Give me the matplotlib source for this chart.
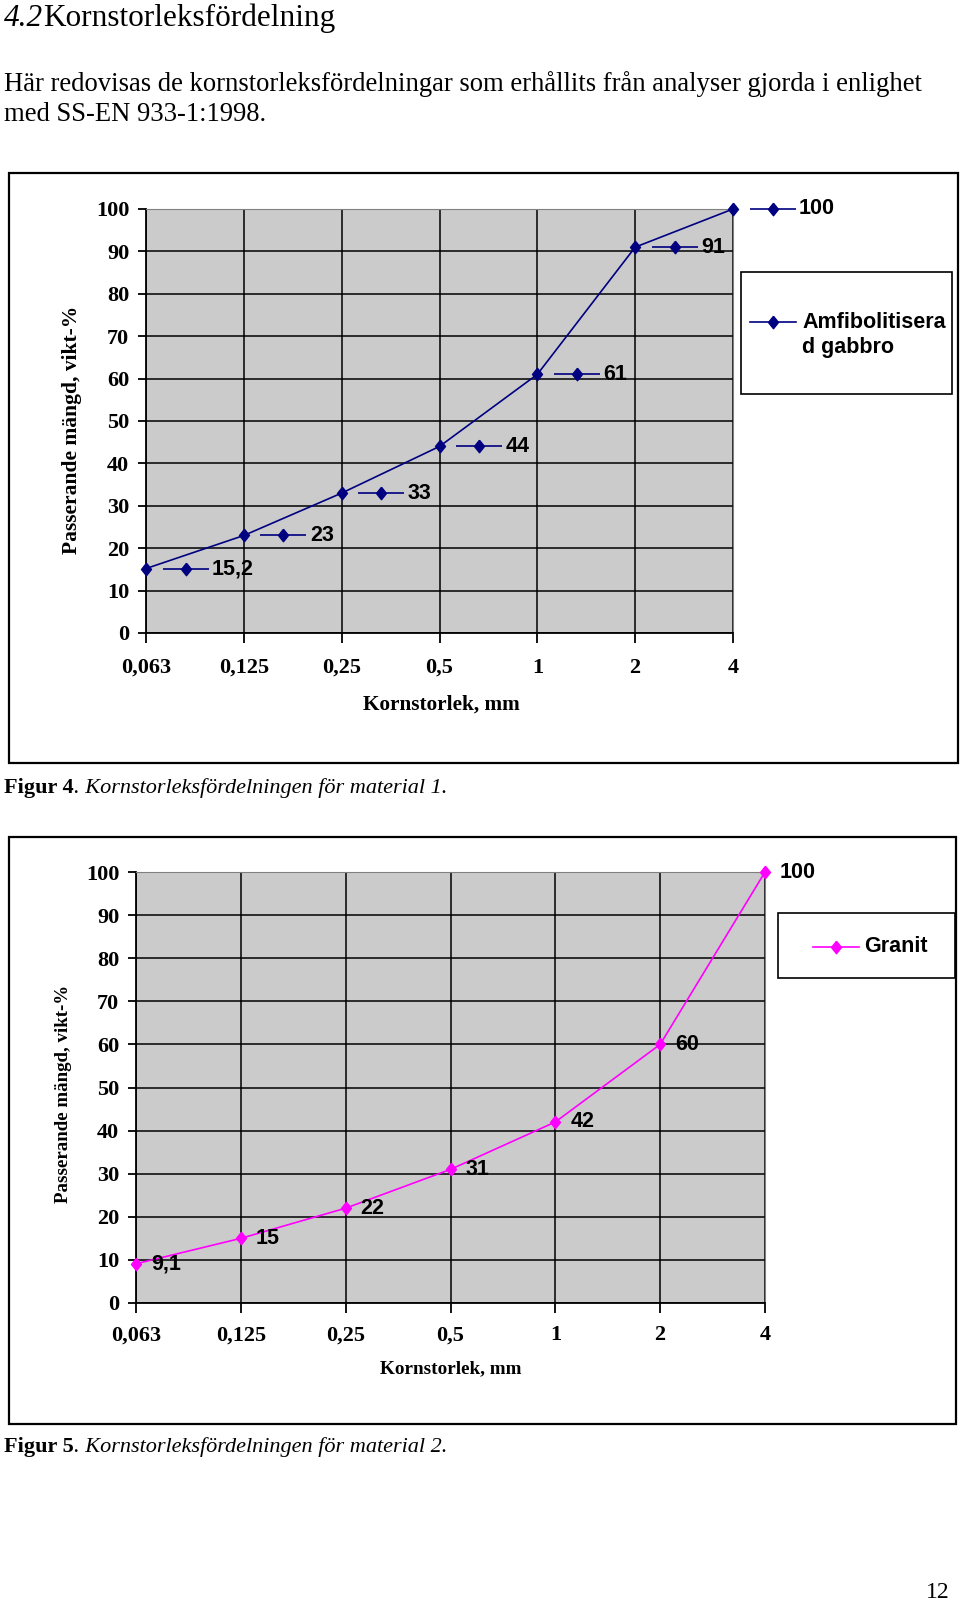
import matplotlib
matplotlib.use('Agg')
import matplotlib.pyplot as plt
from matplotlib.patches import Rectangle
from matplotlib.transforms import ScaledTranslation

# data
sizes = ['0,063', '0,125', '0,25', '0,5', '1', '2', '4']
gabbro = [15.2, 23, 33, 44, 61, 91, 100]
granit = [9.1, 15, 22, 31, 42, 60, 100]
yticks = [0, 10, 20, 30, 40, 50, 60, 70, 80, 90, 100]

W, H = 960, 1603
SERIF = 'Liberation Serif'
SANS = 'Liberation Sans'
NAVY = '#000080'
MAG = '#ff00ff'
DIAMOND = [(0, 1), (0.8, 0), (0, -1), (-0.8, 0), (0, 1)]
MS = 9

fig = plt.figure(figsize=(W / 100, H / 100), dpi=100)

# page layer in pixel coordinates
bg = fig.add_axes([0, 0, 1, 1])
bg.set_xlim(0, W)
bg.set_ylim(H, 0)
bg.axis('off')


def rect(l, t, r, b):
    return [l / W, 1 - b / H, (r - l) / W, (b - t) / H]


def fmt(v):
    return ('%g' % v).replace('.', ',')


def make_chart(box, plot, color, vals, keyed, xpad, ypad):
    l, t, r, b = box
    bg.add_patch(Rectangle((l, t), r - l, b - t, fill=False, ec='black', lw=1.6))
    ax = fig.add_axes(rect(*plot))
    pos = list(range(len(sizes)))
    ax.set_facecolor('#cbcbcb')
    ax.set_xlim(0, len(sizes) - 1)
    ax.set_ylim(0, 100)
    ax.set_xticks(pos)
    ax.set_xticklabels(sizes, family=SERIF, weight='bold', fontsize=16)
    ax.set_yticks(yticks)
    ax.set_yticklabels([str(v) for v in yticks], family=SERIF, weight='bold', fontsize=16)
    ax.tick_params(axis='x', length=7, width=1.3, pad=xpad)
    ax.tick_params(axis='y', length=6, width=1.3, pad=ypad)
    ax.grid(True, color='black', lw=1.1)
    ax.set_axisbelow(True)
    for s in ['top', 'right']:
        ax.spines[s].set_color('#808080')
    for s in ['left', 'bottom']:
        ax.spines[s].set_color('black')
        ax.spines[s].set_linewidth(1.3)
    ax.plot(pos, vals, color=color, lw=1.2, marker=DIAMOND, ms=MS,
            mfc=color, mec=color, clip_on=False, zorder=5)
    for xi, yi in zip(pos, vals):
        if keyed:
            tr = ax.transData + ScaledTranslation(0.395, 0, fig.dpi_scale_trans)
            ax.plot(xi, yi, marker='_', ms=32.5, mew=1.2, color=color,
                    transform=tr, clip_on=False, zorder=6)
            ax.plot(xi, yi, marker=DIAMOND, ms=MS, color=color,
                    transform=tr, clip_on=False, zorder=6)
            off = 66
        else:
            off = 15
        ax.annotate(fmt(yi), (xi, yi), xytext=(off, 0), textcoords='offset pixels',
                    ha='left', va='center', family=SANS, weight='bold',
                    fontsize=15.5, zorder=7, annotation_clip=False)
    return ax


# header text
t1 = bg.text(4, 26, '4.2', family=SERIF, style='italic', fontsize=22.5, va='baseline')
bg.annotate('Kornstorleksfördelning', xy=(1, 0), xycoords=t1, family=SERIF,
            fontsize=22.5, va='bottom', ha='left')
bg.text(4, 91, 'Här redovisas de kornstorleksfördelningar som erhållits från analyser gjorda i enlighet',
        family=SERIF, fontsize=19.2, va='baseline')
bg.text(4, 121, 'med SS-EN 933-1:1998.', family=SERIF, fontsize=19.2, va='baseline')

# chart 1
ax1 = make_chart((9, 173, 958, 763), (146, 209, 733, 633), NAVY, gabbro, True, 11, 6)
bg.text(72, 430, 'Passerande mängd, vikt-%', family=SERIF, weight='bold',
        fontsize=15.5, rotation=90, ha='center', va='center')
bg.text(441, 705, 'Kornstorlek, mm', family=SERIF, weight='bold', fontsize=15.3,
        ha='center', va='center')
bg.add_patch(Rectangle((741, 272), 211, 122, fill=False, ec='black', lw=1.2))
bg.plot([750, 796], [322, 322], color=NAVY, lw=1.2)
bg.plot([773], [322], marker=DIAMOND, ms=MS, color=NAVY)
bg.text(802, 322, 'Amfibolitisera', family=SANS, weight='bold', fontsize=15.5, va='center')
bg.text(802, 348, 'd gabbro', family=SANS, weight='bold', fontsize=15.5, va='center')

t2 = bg.text(4, 793, 'Figur 4', family=SERIF, weight='bold', fontsize=16, va='baseline')
bg.annotate('. Kornstorleksfördelningen för material 1.', xy=(1, 0), xycoords=t2,
            family=SERIF, style='italic', fontsize=16, va='bottom', ha='left')

# chart 2
ax2 = make_chart((9, 837, 956, 1424), (136, 872, 765, 1303), MAG, granit, False, 9, 6)
bg.text(64, 1094, 'Passerande mängd, vikt-%', family=SERIF, weight='bold',
        fontsize=13.6, rotation=90, ha='center', va='center')
bg.text(451, 1369, 'Kornstorlek, mm', family=SERIF, weight='bold', fontsize=13.8,
        ha='center', va='center')
bg.add_patch(Rectangle((778, 913), 177, 65, fill=False, ec='black', lw=1.2))
bg.plot([813, 859], [947, 947], color=MAG, lw=1.2)
bg.plot([836], [947], marker=DIAMOND, ms=MS, color=MAG)
bg.text(864, 947, 'Granit', family=SANS, weight='bold', fontsize=15.5, va='center')

t3 = bg.text(4, 1452, 'Figur 5', family=SERIF, weight='bold', fontsize=16, va='baseline')
bg.annotate('. Kornstorleksfördelningen för material 2.', xy=(1, 0), xycoords=t3,
            family=SERIF, style='italic', fontsize=16, va='bottom', ha='left')

bg.text(938, 1593, '12', family=SERIF, fontsize=17, ha='center', va='center')

fig.savefig('out.png', dpi=100)
